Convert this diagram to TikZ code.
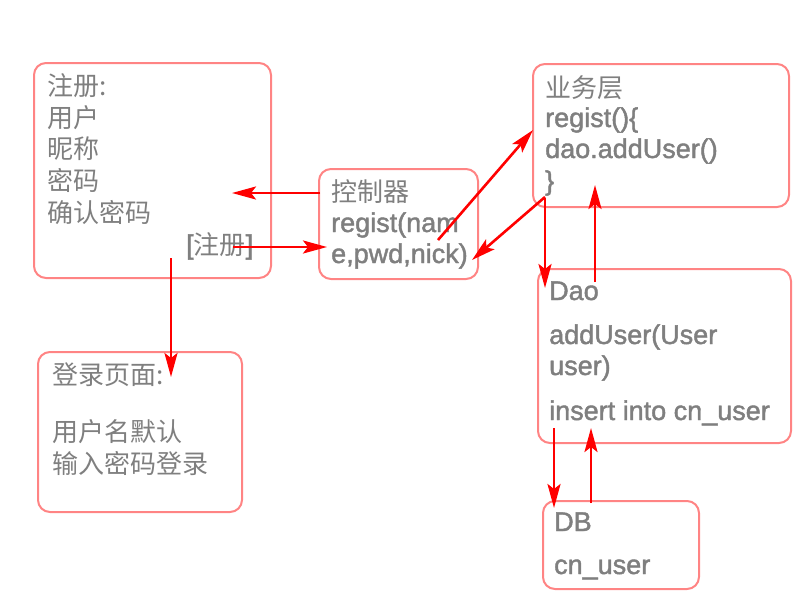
\documentclass[tikz,border=0pt]{standalone}
\usepackage{fontspec}
\setmainfont{Liberation Sans}[FakeBold=1.6]
\newfontfamily\cjk{Noto Sans CJK SC}[Scale=0.963]
\usepackage{tikz}
\usetikzlibrary{arrows.meta}
\definecolor{boxred}{HTML}{FF8484}
\definecolor{txtgray}{HTML}{7F7F7F}
\definecolor{arrred}{HTML}{FF0000}
\tikzset{
	box/.style={draw=boxred, line width=2pt, rounded corners=12pt, anchor=north west, inner sep=0pt},
	txt/.style={inner sep=0pt, anchor=base west, text=txtgray, font=\fontsize{27}{32}\selectfont},
	arr/.style={draw=arrred, line width=2.6pt, -{Stealth[length=24pt,width=13pt,inset=5pt]}}
}

\begin{document}
\begin{tikzpicture}[x=1pt, y=-1pt]
			%%%%% START %%%%%
			\useasboundingbox (0,0) rectangle (800,600);
			
			\node[box, minimum width=237, minimum height=215] (regbox) at (33,62) {};
			\node[box, minimum width=204, minimum height=160] (loginbox) at (37,351) {};
			\node[box, minimum width=159, minimum height=110] (ctrlbox) at (318,168) {};
			\node[box, minimum width=256, minimum height=143] (svcbox) at (532,63) {};
			\node[box, minimum width=253, minimum height=174] (daobox) at (537,268) {};
			\node[box, minimum width=156, minimum height=88] (dbbox) at (542,500) {};
			
			% register page
			\node[txt] (reg1) at (47,95) {\cjk 注册:};
			\node[txt] (reg2) at (47,127) {\cjk 用户};
			\node[txt] (reg3) at (47,158) {\cjk 昵称};
			\node[txt] (reg4) at (47,190) {\cjk 密码};
			\node[txt] (reg5) at (47,222) {\cjk 确认密码};
			\node[txt] (regbtn) at (186,254) {[{\cjk 注册}]};
			
			% login page
			\node[txt] (login1) at (52,384) {\cjk 登录页面:};
			\node[txt] (login2) at (52,441) {\cjk 用户名默认};
			\node[txt] (login3) at (52,473) {\cjk 输入密码登录};
			
			% controller
			\node[txt] (ctrl1) at (331,201) {\cjk 控制器};
			\node[txt] (ctrl2) at (331,232) {regist(nam};
			\node[txt] (ctrl3) at (331,263) {e,pwd,nick)};
			
			% service
			\node[txt] (svc1) at (545,97) {\cjk 业务层};
			\node[txt] (svc2) at (545,127) {regist()\{};
			\node[txt] (svc3) at (545,158) {dao.addUser()};
			\node[txt] (svc4) at (545,190) {\}};
			
			% dao
			\node[txt] (dao1) at (549,300) {Dao};
			\node[txt] (dao2) at (549,344) {addUser(User};
			\node[txt] (dao3) at (549,375) {user)};
			\node[txt] (dao4) at (549,420) {insert into cn\_user};
			
			% db
			\node[txt] (db1) at (554,531) {DB};
			\node[txt] (db2) at (554,574) {cn\_user};
			
			% arrow ends
			\coordinate (ctrlL) at (320,193);
			\coordinate (regIn) at (232,193);
			\coordinate (regOut) at (233,247);
			\coordinate (ctrlIn) at (327,247);
			\coordinate (regDown) at (171,258);
			\coordinate (loginIn) at (171,377);
			\coordinate (ctrlUp) at (438,240);
			\coordinate (svcIn) at (533,130);
			\coordinate (svcOut) at (545,197);
			\coordinate (ctrlRet) at (472,260);
			\coordinate (svcDown) at (545,198);
			\coordinate (daoIn) at (545,288);
			\coordinate (daoUp) at (595,282);
			\coordinate (svcRet) at (595,185);
			\coordinate (daoDown) at (554,428);
			\coordinate (dbIn) at (554,508);
			\coordinate (dbUp) at (591,503);
			\coordinate (daoRet) at (591,428);
			
			\draw[arr] (ctrlL) -- (regIn);
			\draw[arr] (regOut) -- (ctrlIn);
			\draw[arr] (regDown) -- (loginIn);
			\draw[arr] (ctrlUp) -- (svcIn);
			\draw[arr] (svcOut) -- (ctrlRet);
			\draw[arr] (svcDown) -- (daoIn);
			\draw[arr] (daoUp) -- (svcRet);
			\draw[arr] (daoDown) -- (dbIn);
			\draw[arr] (dbUp) -- (daoRet);
			
			%%%%% END %%%%%
\end{tikzpicture}
\end{document}
